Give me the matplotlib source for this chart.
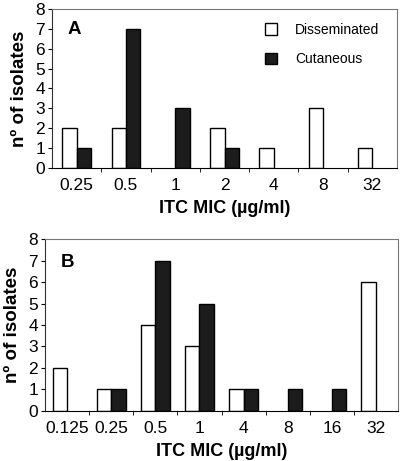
import numpy as np
import matplotlib.pyplot as plt
from matplotlib.patches import Patch

plt.rcParams['font.family'] = ['Liberation Sans', 'DejaVu Sans']

# panel A
mic_a = ['0.25', '0.5', '1', '2', '4', '8', '32']
dissem_a = [2, 2, 0, 2, 1, 3, 1]
cutan_a = [1, 7, 3, 1, 0, 0, 0]

# panel B
mic_b = ['0.125', '0.25', '0.5', '1', '4', '8', '16', '32']
dissem_b = [2, 1, 4, 3, 1, 0, 0, 6]
cutan_b = [0, 1, 7, 5, 1, 1, 1, 0]

DARK = '#1c1c1c'


def draw_panel(ax, cats, dissem, cutan, letter, width):
    x = np.arange(len(cats))
    for xi, v in zip(x, dissem):
        if v > 0:
            ax.bar(xi - width / 2, v, width, color='white', edgecolor='black', linewidth=1.0)
    for xi, v in zip(x, cutan):
        if v > 0:
            ax.bar(xi + width / 2, v, width, color=DARK, edgecolor='black', linewidth=1.0)
    ax.set_xlim(-0.5, len(cats) - 0.5)
    ax.set_ylim(0, 8)
    ax.set_yticks(range(9))
    ax.set_xticks(x)
    ax.set_xticklabels(cats, fontsize=12.5)
    ax.set_xticks(np.arange(len(cats) - 1) + 0.5, minor=True)
    ax.tick_params(axis='x', which='major', length=0, pad=7)
    ax.tick_params(axis='x', which='minor', length=3, direction='out')
    ax.tick_params(axis='y', labelsize=12.5, length=3, direction='out', pad=2)
    ax.set_xlabel('ITC MIC (µg/ml)', fontsize=13, fontweight='bold', labelpad=5)
    ax.set_ylabel('nº of isolates', fontsize=13.5, fontweight='bold', labelpad=5)
    for s in ['top', 'right']:
        ax.spines[s].set_linestyle((0, (1, 1)))
        ax.spines[s].set_color('#777777')
        ax.spines[s].set_linewidth(0.8)
    ax.spines['left'].set_color('#333333')
    ax.text(0.045, 0.84, letter, transform=ax.transAxes, fontsize=13.5,
            fontweight='bold')


fig = plt.figure(figsize=(4.0, 4.61), dpi=100)
ax1 = fig.add_axes([0.13, 0.6356, 0.8625, 0.345])
ax2 = fig.add_axes([0.1125, 0.1085, 0.8825, 0.373])

draw_panel(ax1, mic_a, dissem_a, cutan_a, 'A', 0.29)
draw_panel(ax2, mic_b, dissem_b, cutan_b, 'B', 0.33)

# legend for panel A
handles = [Patch(facecolor='white', edgecolor='black', label='Disseminated'),
           Patch(facecolor=DARK, edgecolor='black', label='Cutaneous')]
ax1.legend(handles=handles, loc='upper right', bbox_to_anchor=(0.985, 0.99),
           frameon=False, fontsize=10, handlelength=0.9, handleheight=0.9,
           handletextpad=1.3, labelspacing=1.1)

fig.savefig('out.png', dpi=100)
